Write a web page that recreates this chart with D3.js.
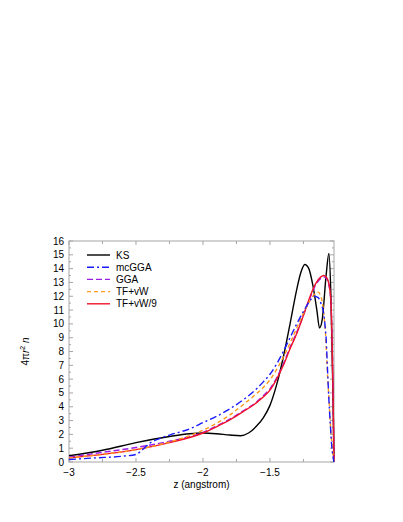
<!DOCTYPE html>
<html>
<head>
<meta charset="utf-8">
<script src="https://cdn.jsdelivr.net/npm/d3@7"></script>
<style>
  body { margin: 0; background: #fff; }
  text { font-family: "Liberation Sans", Arial, sans-serif; }
</style>
</head>
<body>
<svg id="chart" width="403" height="522"></svg>
<script>
// series, z in angstrom
const seriesNames = ['KS', 'mcGGA', 'GGA', 'TF+vW', 'TF+vW/9']

const ksZ = [-3, -2.75, -2.5, -2.25, -2.1, -2, -1.9, -1.8, -1.72, -1.66, -1.6, -1.55, -1.5, -1.45, -1.4, -1.35, -1.3, -1.27, -1.24, -1.21, -1.18, -1.15, -1.13, -1.11, -1.08, -1.06, -1.045, -1.03, -1.022]
const ksN = [0.45, 0.85, 1.4, 1.85, 2.05, 2.1, 2.05, 1.95, 1.9, 2.1, 2.6, 3.2, 4.1, 5.6, 7.6, 10.0, 12.5, 13.7, 14.3, 14.0, 12.8, 11.0, 9.7, 10.3, 13.6, 15.1, 12.0, 5.0, 0]

const mcggaZ = [-3, -2.8, -2.6, -2.5, -2.45, -2.4, -2.35, -2.25, -2.1, -2, -1.9, -1.8, -1.7, -1.6, -1.55, -1.5, -1.45, -1.4, -1.35, -1.3, -1.25, -1.2, -1.17, -1.14, -1.12, -1.1, -1.09, -1.08, -1.07, -1.06, -1.05, -1.04, -1.03, -1.022]
const mcggaN = [0.18, 0.3, 0.42, 0.55, 0.9, 1.35, 1.6, 1.95, 2.4, 2.85, 3.3, 3.85, 4.5, 5.3, 5.8, 6.35, 7.1, 8.0, 9.0, 10.0, 10.9, 11.7, 12.0, 11.9, 11.5, 10.8, 10.0, 8.8, 6.6, 4.5, 2.8, 1.3, 0.4, 0]

const ggaZ = [-3, -2.75, -2.5, -2.25, -2, -1.9, -1.8, -1.7, -1.6, -1.55, -1.5, -1.45, -1.4, -1.35, -1.3, -1.24, -1.2, -1.16, -1.12, -1.1, -1.08, -1.06, -1.045, -1.035, -1.028, -1.022]
const ggaN = [0.35, 0.7, 1.05, 1.5, 2.15, 2.6, 3.1, 3.7, 4.35, 4.8, 5.3, 6.1, 7.1, 8.3, 9.4, 10.9, 11.9, 12.8, 13.3, 13.4, 13.3, 12.8, 11.6, 8.2, 4.2, 0]

const tfvwZ = [-3, -2.75, -2.5, -2.25, -2, -1.9, -1.8, -1.7, -1.6, -1.55, -1.5, -1.45, -1.4, -1.35, -1.3, -1.25, -1.2, -1.16, -1.14, -1.12, -1.1, -1.085, -1.075, -1.06, -1.045, -1.03, -1.022]
const tfvwN = [0.3, 0.55, 0.9, 1.45, 2.3, 2.8, 3.4, 4.15, 4.95, 5.4, 5.95, 6.7, 7.6, 8.6, 9.7, 10.8, 11.7, 12.2, 12.3, 12.0, 10.9, 9.2, 7.2, 4.6, 2.2, 0.6, 0]

const tfvw9Z = [-3, -2.75, -2.5, -2.25, -2, -1.9, -1.8, -1.7, -1.6, -1.55, -1.5, -1.45, -1.4, -1.35, -1.3, -1.24, -1.2, -1.16, -1.12, -1.1, -1.08, -1.06, -1.045, -1.035, -1.028, -1.022]
const tfvw9N = [0.3, 0.55, 0.9, 1.4, 2.1, 2.55, 3.05, 3.65, 4.3, 4.7, 5.2, 6.0, 7.0, 8.2, 9.3, 10.9, 12.0, 12.9, 13.4, 13.5, 13.4, 12.9, 11.6, 8.2, 4.2, 0]

const xTicks = [-3, -2.5, -2, -1.5]
const xMinorTicks = [-2.75, -2.25, -1.75, -1.25]
const yTicks = d3.range(0, 17)

const svg = d3.select('#chart')
const plotLeft = 69, plotRight = 334, plotTop = 241, plotBottom = 462

const x = d3.scaleLinear().domain([-3, -1.022]).range([plotLeft, plotRight])
const y = d3.scaleLinear().domain([0, 16]).range([plotBottom, plotTop])

const frameColor = '#a6a6a6'

// frame
svg.append('rect')
  .attr('x', plotLeft).attr('y', plotTop)
  .attr('width', plotRight - plotLeft).attr('height', plotBottom - plotTop)
  .attr('fill', 'none').attr('stroke', frameColor).attr('stroke-width', 1)

// ticks on all four sides, pointing inward
const tickG = svg.append('g').attr('stroke', frameColor).attr('stroke-width', 1)
xTicks.concat(xMinorTicks).forEach(t => {
  const len = xTicks.includes(t) ? 4 : 3
  tickG.append('line').attr('x1', x(t)).attr('x2', x(t)).attr('y1', plotBottom).attr('y2', plotBottom - len)
  tickG.append('line').attr('x1', x(t)).attr('x2', x(t)).attr('y1', plotTop).attr('y2', plotTop + len)
})
yTicks.forEach(t => {
  tickG.append('line').attr('x1', plotLeft).attr('x2', plotLeft + 4).attr('y1', y(t)).attr('y2', y(t))
  tickG.append('line').attr('x1', plotRight).attr('x2', plotRight - 4).attr('y1', y(t)).attr('y2', y(t))
  if (t < 16) {
    tickG.append('line').attr('x1', plotLeft).attr('x2', plotLeft + 2).attr('y1', y(t + 0.5)).attr('y2', y(t + 0.5))
    tickG.append('line').attr('x1', plotRight).attr('x2', plotRight - 2).attr('y1', y(t + 0.5)).attr('y2', y(t + 0.5))
  }
})

const fmt = d => (d < 0 ? '\u2212' : '') + Math.abs(d)

svg.append('g').selectAll('text')
  .data(xTicks)
  .join('text')
  .attr('x', d => x(d)).attr('y', plotBottom + 14)
  .attr('text-anchor', 'middle').attr('font-size', 10)
  .text(fmt)

svg.append('g').selectAll('text')
  .data(yTicks)
  .join('text')
  .attr('x', plotLeft - 5).attr('y', d => y(d) + 3.5)
  .attr('text-anchor', 'end').attr('font-size', 10)
  .text(d => d)

svg.append('text')
  .attr('x', (plotLeft + plotRight) / 2).attr('y', 488)
  .attr('text-anchor', 'middle').attr('font-size', 10)
  .text('z (angstrom)')

const ylab = svg.append('text')
  .attr('transform', `translate(29,${(plotTop + plotBottom) / 2}) rotate(-90)`)
  .attr('text-anchor', 'middle').attr('font-size', 10)
ylab.append('tspan').text('4\u03c0')
ylab.append('tspan').attr('font-style', 'italic').text('r')
ylab.append('tspan').attr('font-size', 7).attr('dy', -4).text('2')
ylab.append('tspan').attr('dy', 4).text(' ')
ylab.append('tspan').attr('font-style', 'italic').text('n')

const styles = {
  'KS': { color: '#000000', dash: null, width: 1.4 },
  'mcGGA': { color: '#1a1aff', dash: '7,3,2,3', width: 1.4 },
  'GGA': { color: '#9b1ee6', dash: '6,3', width: 1.4 },
  'TF+vW': { color: '#ff9a1a', dash: '4,3', width: 1.4 },
  'TF+vW/9': { color: '#f0142d', dash: null, width: 1.4 }
}

const allData = {
  'KS': d3.zip(ksZ, ksN),
  'mcGGA': d3.zip(mcggaZ, mcggaN),
  'GGA': d3.zip(ggaZ, ggaN),
  'TF+vW': d3.zip(tfvwZ, tfvwN),
  'TF+vW/9': d3.zip(tfvw9Z, tfvw9N)
}

const line = d3.line()
  .x(d => x(d[0]))
  .y(d => y(d[1]))
  .curve(d3.curveMonotoneX)

const drawOrder = ['KS', 'GGA', 'TF+vW/9', 'TF+vW', 'mcGGA']
drawOrder.forEach(name => {
  const s = styles[name]
  svg.append('path')
    .datum(allData[name])
    .attr('d', line)
    .attr('fill', 'none')
    .attr('stroke', s.color)
    .attr('stroke-width', s.width)
    .attr('stroke-dasharray', s.dash)
})

// legend
const legend = svg.append('g')
seriesNames.forEach((name, i) => {
  const ly = 255 + i * 12.2
  const s = styles[name]
  legend.append('line')
    .attr('x1', 87).attr('x2', 110).attr('y1', ly).attr('y2', ly)
    .attr('stroke', s.color).attr('stroke-width', s.width)
    .attr('stroke-dasharray', s.dash)
  legend.append('text')
    .attr('x', 116).attr('y', ly + 3.5)
    .attr('font-size', 10)
    .text(name)
})
</script>
</body>
</html>
